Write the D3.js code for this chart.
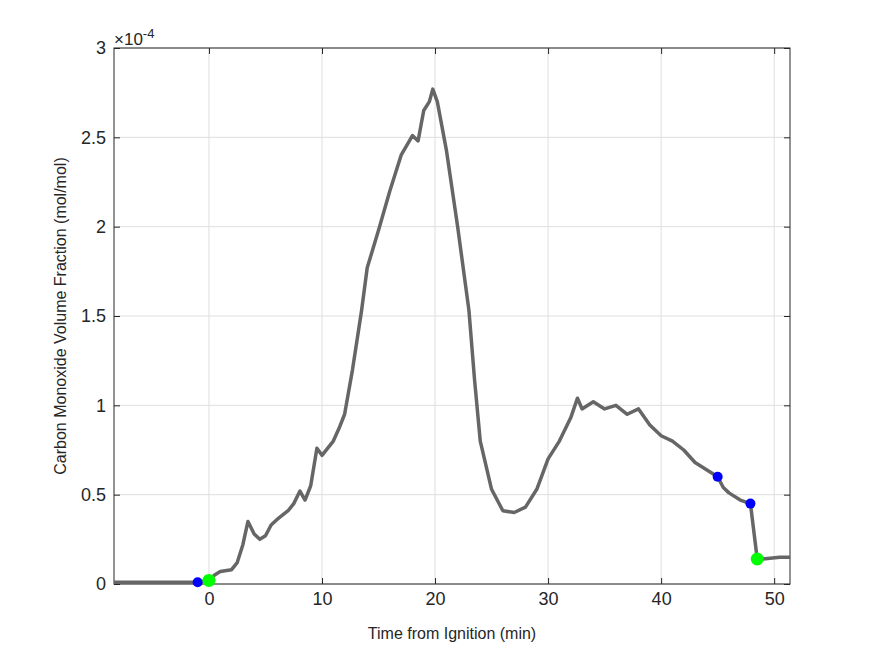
<!DOCTYPE html><html><head><meta charset="utf-8"><script src="https://cdn.jsdelivr.net/npm/d3@7"></script>
<style>body{margin:0;background:#fff}text{font-family:Arial,"Liberation Sans",sans-serif}</style></head><body>
<svg id="c" width="875" height="656"></svg>
<script>
const times=[-8.4,-5,-2,-1,0,0.5,1,2,2.5,3,3.45,4,4.5,5,5.5,6,7,7.5,8.05,8.5,9,9.55,10,11,11.5,12,12.7,13.5,14,15,16,17,18,18.5,19,19.5,19.8,20.2,21,22,23,23.5,24,25,26,27,28,29,30,31,32,32.6,33,34,35,36,37,38,39,40,41,42,43,45,45.5,46,47,47.9,48.5,49,50.5,51.4];
const co=[0.01,0.01,0.01,0.01,0.02,0.05,0.07,0.08,0.12,0.22,0.35,0.28,0.25,0.27,0.33,0.36,0.41,0.45,0.52,0.47,0.55,0.76,0.72,0.8,0.87,0.95,1.2,1.53,1.77,1.98,2.2,2.4,2.51,2.48,2.65,2.7,2.77,2.7,2.43,2.0,1.53,1.14,0.8,0.53,0.41,0.4,0.43,0.53,0.7,0.8,0.93,1.04,0.98,1.02,0.98,1.0,0.95,0.98,0.89,0.83,0.8,0.75,0.68,0.6,0.54,0.51,0.47,0.45,0.14,0.14,0.15,0.15];
const blueT=[-1,45,47.9], blueV=[0.01,0.6,0.45];
const greenT=[0,48.5], greenV=[0.02,0.14];
const xTicks=[0,10,20,30,40,50], yTicks=[0,0.5,1,1.5,2,2.5,3];
const yLabels=["0","0.5","1","1.5","2","2.5","3"];
const svg=d3.select("#c");
const L=114,R=790,T=48,B=584;
const x=d3.scaleLinear().domain([-8.4,51.4]).range([L,R]);
const y=d3.scaleLinear().domain([0,3]).range([B,T]);
const g=svg.append("g");
xTicks.forEach(t=>g.append("line").attr("x1",x(t)).attr("x2",x(t)).attr("y1",T).attr("y2",B).attr("stroke","#dfdfdf"));
yTicks.forEach(t=>g.append("line").attr("x1",L).attr("x2",R).attr("y1",y(t)).attr("y2",y(t)).attr("stroke","#dfdfdf"));
svg.append("rect").attr("x",L).attr("y",T).attr("width",R-L).attr("height",B-T).attr("fill","none").attr("stroke","#262626");
svg.append("g").attr("transform",`translate(0,${B})`).call(d3.axisBottom(x).tickValues(xTicks).tickSize(-6).tickPadding(8));
svg.append("g").attr("transform",`translate(${L},0)`).call(d3.axisLeft(y).tickValues(yTicks).tickFormat((d,i)=>yLabels[i]).tickSize(-6).tickPadding(8));
svg.append("g").attr("transform",`translate(0,${T})`).call(d3.axisTop(x).tickValues(xTicks).tickSize(-6).tickFormat(""));
svg.append("g").attr("transform",`translate(${R},0)`).call(d3.axisRight(y).tickValues(yTicks).tickSize(-6).tickFormat(""));
svg.selectAll(".domain").remove();
svg.selectAll(".tick line").attr("stroke","#262626");
svg.selectAll(".tick text").style("font-size","18px").style("font-family","Arial, 'Liberation Sans', sans-serif").attr("fill","#262626");
const line=d3.line().x((d,i)=>x(times[i])).y(d=>y(d));
svg.append("path").datum(co).attr("d",line).attr("fill","none").attr("stroke","#666").attr("stroke-width",3.5).attr("stroke-linejoin","round");
blueT.forEach((t,i)=>svg.append("circle").attr("cx",x(t)).attr("cy",y(blueV[i])).attr("r",5).attr("fill","#0000ff"));
greenT.forEach((t,i)=>svg.append("circle").attr("cx",x(t)).attr("cy",y(greenV[i])).attr("r",6.5).attr("fill","#00ff00"));
svg.append("text").attr("x",114).attr("y",45).style("font-size","17px").attr("fill","#262626").html('×10<tspan dy="-7" style="font-size:13px">-4</tspan>');
svg.append("text").attr("x",452).attr("y",639).attr("text-anchor","middle").style("font-size","16px").attr("fill","#262626").text("Time from Ignition (min)");
svg.append("text").attr("transform","translate(66,316) rotate(-90)").attr("text-anchor","middle").style("font-size","16px").attr("fill","#262626").text("Carbon Monoxide Volume Fraction (mol/mol)");
</script></body></html>
